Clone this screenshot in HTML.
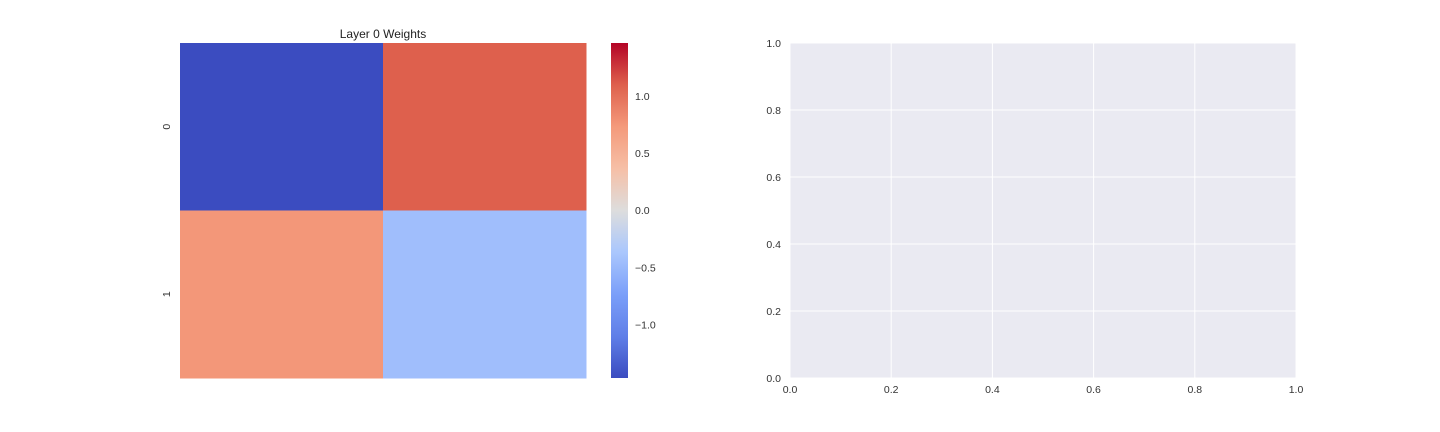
<!DOCTYPE html>
<html><head><meta charset="utf-8"><style>
html,body{margin:0;padding:0;background:#fff;}
svg{display:block;font-family:"Liberation Sans",sans-serif;}
</style></head><body>
<svg id="chart" width="1440" height="432"></svg>
<script>
const rowLabels = ["0","1"];
const colLabels = ["0","1"];
const cellValues = [[-1.47, 1.10],[0.75, -0.45]];
const vmin = -1.47, vmax = 1.465;
const cbarTicks = [-1.0,-0.5,0.0,0.5,1.0];
const rightTicks = [0.0,0.2,0.4,0.6,0.8,1.0];

const NS="http://www.w3.org/2000/svg";
const svg=document.getElementById('chart');
function mk(tag,attrs,parent){const e=document.createElementNS(NS,tag);for(const k in attrs)e.setAttribute(k,attrs[k]);(parent||svg).appendChild(e);return e;}
const cw=[[0,[59,76,192]],[0.125,[95,127,232]],[0.25,[123,159,249]],[0.375,[170,199,253]],[0.5,[221,221,221]],[0.625,[246,191,166]],[0.75,[244,154,123]],[0.875,[222,96,77]],[1,[180,4,38]]];
function coolwarm(t){t=Math.max(0,Math.min(1,t));for(let i=1;i<cw.length;i++){if(t<=cw[i][0]){const a=cw[i-1],b=cw[i];const f=(t-a[0])/(b[0]-a[0]);const c=a[1].map((v,j)=>Math.round(v+(b[1][j]-v)*f));return `rgb(${c.join(',')})`;}}return 'rgb(180,4,38)';}
function fmt(v){return (v<0?'\u2212':'')+Math.abs(v).toFixed(1);}

const hx0=180,hx1=586,hy0=43,hy1=378;
const cwid=(hx1-hx0)/colLabels.length, chei=(hy1-hy0)/rowLabels.length;
const hm=mk('g',{});


cellValues.forEach((row,r)=>row.forEach((v,c)=>{
  const t=(v-vmin)/(vmax-vmin);
  const rc=mk('rect',{x:hx0+c*cwid,y:hy0+r*chei,width:cwid+0.5,height:chei+0.5,fill:coolwarm(t)},hm);
  
  
}));
rowLabels.forEach((l,r)=>{
  const y=hy0+(r+0.5)*chei;
  const tx=mk('text',{x:0,y:0,'font-size':10.5,fill:'#333','text-anchor':'middle',transform:`translate(170,${y}) rotate(-90)`},hm);
  tx.textContent=l;
  
  
});
const title=mk('text',{x:(hx0+hx1)/2,y:38,'font-size':12,fill:'#222','text-anchor':'middle'});
title.textContent='Layer 0 Weights';



const cx0=611,cx1=628;
const defs=mk('defs',{});
const lg=mk('linearGradient',{id:'cg',x1:0,y1:1,x2:0,y2:0},defs);
for(let i=0;i<=40;i++){mk('stop',{offset:(i/40),'stop-color':coolwarm(i/40)},lg);}
const cb=mk('rect',{x:cx0,y:hy0,width:cx1-cx0,height:hy1-hy0,fill:'url(#cg)'});


function cy(v){return hy1-(v-vmin)/(vmax-vmin)*(hy1-hy0);}
cbarTicks.forEach(v=>{
  const t=mk('text',{x:635,y:cy(v)+4,'font-size':10.5,fill:'#333'});
  t.textContent=fmt(v);
  
  
});

const ax0=790,ax1=1296,ay0=43,ay1=378;
const ax=mk('rect',{x:ax0,y:ay0,width:ax1-ax0,height:ay1-ay0,fill:'#eaeaf2'});


function sx(v){return ax0+v*(ax1-ax0);} function sy(v){return ay1-v*(ay1-ay0);}
rightTicks.forEach(v=>{
  const gx=mk('line',{x1:sx(v),x2:sx(v),y1:ay0,y2:ay1,stroke:'#fff','stroke-width':1});
  
  
  const gy=mk('line',{x1:ax0,x2:ax1,y1:sy(v),y2:sy(v),stroke:'#fff','stroke-width':1});
  
  
  const tx=mk('text',{x:sx(v),y:ay1+15,'font-size':10.5,fill:'#333','text-anchor':'middle'});
  tx.textContent=v.toFixed(1);
  
  
  const ty=mk('text',{x:ax0-9,y:sy(v)+4,'font-size':10.5,fill:'#333','text-anchor':'end'});
  ty.textContent=v.toFixed(1);
  
  
});
</script>
</body></html>
